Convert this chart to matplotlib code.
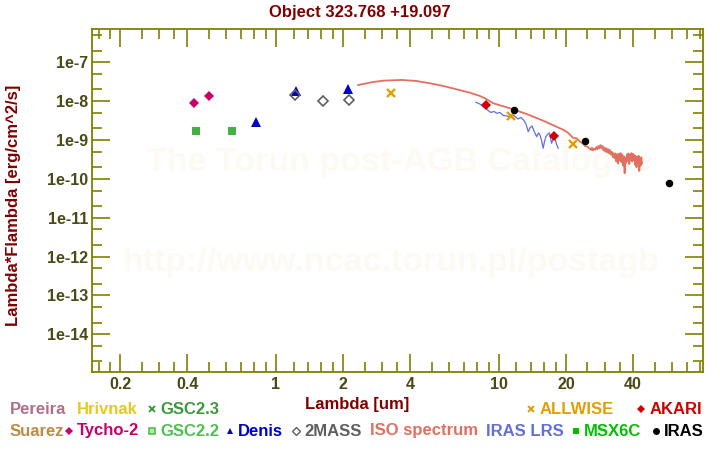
import matplotlib
matplotlib.use('Agg')
import matplotlib.pyplot as plt
from matplotlib.ticker import FixedLocator, FixedFormatter, NullFormatter

plt.rcParams['font.family'] = ['Liberation Sans', 'DejaVu Sans']
plt.rcParams['font.weight'] = 'bold'

# ---------------- data ----------------
title = "Object 323.768 +19.097"

tycho_wave = [0.43, 0.50]
tycho_flux = [8.8e-9, 1.36e-8]

gsc22_wave = [0.44, 0.635]
gsc22_flux = [1.67e-9, 1.67e-9]

denis_wave = [0.81, 1.227, 2.10]
denis_flux = [2.9e-9, 1.86e-8, 2.06e-8]

tmass_wave = [1.22, 1.63, 2.13]
tmass_flux = [1.42e-8, 9.9e-9, 1.05e-8]

allwise_wave = [3.29, 11.37, 21.6]
allwise_flux = [1.59e-8, 4.07e-9, 7.76e-10]

akari_wave = [8.78, 17.6]
akari_flux = [7.82e-9, 1.25e-9]

iras_wave = [11.73, 24.4, 58.2]
iras_flux = [5.93e-9, 9.27e-10, 7.69e-11]

iso_wave = [2.34, 2.73, 3.03, 3.66, 4.27, 4.91, 5.63, 6.46, 7.41, 8.22, 8.66,
            9.44, 11.22, 13.33, 15.83, 18.81, 19.6, 20.4, 21.5, 22.35, 23.2,
            23.8, 24.4,
            25.0, 25.3, 25.6, 25.9, 26.2, 26.5, 26.8, 27.1, 27.4, 27.7, 28.0,
            28.3, 28.6, 28.9, 29.2, 29.5, 29.8, 30.1, 30.4, 30.7, 31.0, 31.3,
            31.6, 31.9, 32.2, 32.5, 32.8, 33.1, 33.4, 33.7, 34.0, 34.3, 34.6,
            34.9, 35.2, 35.5, 35.8, 36.1, 36.4, 36.7, 37.0, 37.3, 37.6, 37.9,
            38.2, 38.5, 38.8, 39.1, 39.4, 39.7, 40.0, 40.3, 40.6, 40.9, 41.2,
            41.5, 41.8, 42.1, 42.4, 42.7, 43.0, 43.3, 43.6, 43.9]
iso_flux = [2.60e-8, 3.11e-8, 3.36e-8, 3.51e-8, 3.30e-8, 2.88e-8, 2.46e-8,
            2.02e-8, 1.65e-8, 1.36e-8, 1.19e-8, 8.82e-9, 6.55e-9, 4.67e-9,
            3.14e-9, 2.00e-9, 1.80e-9, 1.55e-9, 1.15e-9, 1.10e-9, 9.0e-10,
            8.2e-10, 7.0e-10,
            6.8e-10, 6.2e-10, 6.0e-10, 5.5e-10, 6.3e-10, 5.4e-10, 6.0e-10,
            5.6e-10, 6.6e-10, 5.8e-10, 7.0e-10, 6.1e-10, 7.4e-10, 6.2e-10,
            7.0e-10, 5.4e-10, 6.4e-10, 5.0e-10, 6.1e-10, 4.8e-10, 5.8e-10,
            4.5e-10, 5.5e-10, 4.2e-10, 4.9e-10, 3.6e-10, 4.6e-10, 3.4e-10,
            4.5e-10, 2.8e-10, 4.3e-10, 2.5e-10, 4.4e-10, 3.0e-10, 4.6e-10,
            2.7e-10, 4.2e-10, 2.2e-10, 3.8e-10, 1.4e-10, 3.5e-10, 2.6e-10,
            4.3e-10, 2.9e-10, 4.5e-10, 2.4e-10, 4.0e-10, 3.1e-10, 4.6e-10,
            2.8e-10, 4.4e-10, 3.0e-10, 4.1e-10, 2.3e-10, 3.8e-10, 2.0e-10,
            3.6e-10, 2.6e-10, 3.9e-10, 1.6e-10, 3.4e-10, 2.2e-10, 3.6e-10,
            2.5e-10]

lrs_wave = [7.89, 8.22, 8.51, 8.75, 8.96, 9.21, 9.51, 9.81, 10.12, 10.47,
            10.88, 11.22, 11.69, 12.19, 12.57, 12.97, 13.24, 13.56, 13.80,
            14.09, 14.39, 14.79, 15.07, 15.30, 15.54, 15.82, 16.02, 16.27,
            16.62, 16.87, 17.26, 17.58, 17.86, 18.14, 18.48]
lrs_flux = [9.35e-9, 8.45e-9, 7.20e-9, 6.67e-9, 5.75e-9, 5.11e-9, 5.42e-9,
            4.87e-9, 5.11e-9, 4.28e-9, 4.15e-9, 3.91e-9, 4.28e-9, 3.48e-9,
            3.80e-9, 3.18e-9, 2.58e-9, 1.64e-9, 2.04e-9, 2.30e-9, 1.71e-9,
            1.22e-9, 1.52e-9, 1.35e-9, 1.00e-9, 6.12e-10, 8.89e-10, 1.22e-9,
            1.43e-9, 1.52e-9, 8.24e-10, 1.13e-9, 1.11e-9, 7.90e-10, 6.12e-10]

x_major = [0.2, 0.4, 1, 2, 4, 10, 20, 40]
x_labels = ['0.2', '0.4', '1', '2', '4', '10', '20', '40']
x_minor = [0.16, 0.18, 0.25, 0.3, 0.35, 0.5, 0.6, 0.7, 0.8, 0.9, 1.2, 1.4,
           1.6, 1.8, 2.5, 3, 3.5, 5, 6, 7, 8, 9, 12, 14, 16, 18, 25, 30, 35,
           50, 60, 70, 80]
y_major = [1e-7, 1e-8, 1e-9, 1e-10, 1e-11, 1e-12, 1e-13, 1e-14]
y_labels = ['1e-7', '1e-8', '1e-9', '1e-10', '1e-11', '1e-12', '1e-13', '1e-14']
y_minor = [m * 10.0 ** e for e in range(-15, -6) for m in (2, 5)]

# ---------------- styles ----------------
OLIVE = '#808000'
TICKLAB = '#4a4a16'
DARKRED = '#800000'
FS = 11.5
FT = 12

fig = plt.figure(figsize=(7.2, 4.5), dpi=100)
ax = fig.add_axes([92.3 / 720, (450 - 371.7) / 450,
                   (702.8 - 92.3) / 720, (371.7 - 29.3) / 450])
ax.set_xscale('log')
ax.set_yscale('log')
ax.set_xlim(0.15, 82.3)
ax.set_ylim(1.09e-15, 7.06e-7)

for s in ax.spines.values():
    s.set_color(OLIVE)
    s.set_linewidth(1.3)

ax.xaxis.set_major_locator(FixedLocator(x_major))
ax.xaxis.set_major_formatter(FixedFormatter(x_labels))
ax.xaxis.set_minor_locator(FixedLocator(x_minor))
ax.xaxis.set_minor_formatter(NullFormatter())
ax.yaxis.set_major_locator(FixedLocator(y_major))
ax.yaxis.set_major_formatter(FixedFormatter(y_labels))
ax.yaxis.set_minor_locator(FixedLocator(y_minor))
ax.yaxis.set_minor_formatter(NullFormatter())

ax.tick_params(which='both', direction='in', top=True, right=True,
               color=OLIVE, width=1.2, labelcolor=TICKLAB, labelsize=FS)
ax.tick_params(which='major', length=13)
ax.tick_params(which='minor', length=7.2)
ax.tick_params(axis='x', pad=4)
ax.tick_params(axis='y', pad=3)
for lab in ax.get_xticklabels() + ax.get_yticklabels():
    lab.set_fontweight('bold')

# watermark
wm = '#fdfaf3'
ax.text(0.502, 0.612, 'The Torun post-AGB Catalogue', transform=ax.transAxes,
        ha='center', va='center', fontsize=24.5, color=wm, zorder=0)
ax.text(0.489, 0.32, 'http://www.ncac.torun.pl/postagb', transform=ax.transAxes,
        ha='center', va='center', fontsize=24.5, color=wm, zorder=0)

# data
ax.plot(iso_wave, iso_flux, color='#e07060', lw=1.3, zorder=3)
ax.plot(lrs_wave, lrs_flux, color='#6070d8', lw=0.9, zorder=3)
ax.plot(tycho_wave, tycho_flux, 'D', color='#c8006e', ms=5.2, mew=0, zorder=4)
ax.plot(gsc22_wave, gsc22_flux, 's', color='#44b044', ms=5.2, mew=0, zorder=4)
ax.plot(denis_wave, denis_flux, '^', color='#0000c8', ms=6.5, mew=0, zorder=4)
ax.plot(tmass_wave, tmass_flux, 'D', mfc='none', mec='#606060', ms=4.6,
        mew=1.2, zorder=5)
ax.plot(allwise_wave, allwise_flux, 'x', color='#e0a000', ms=5.2, mew=1.7,
        zorder=5)
ax.plot(akari_wave, akari_flux, 'D', color='#d00000', ms=5.2, mew=0, zorder=5)
ax.plot(iras_wave, iras_flux, 'o', color='black', ms=5.4, mew=0, zorder=6)

# titles
fig.text(360 / 720, 1 - 12 / 450, title, ha='center', va='center',
         fontsize=FT, color=DARKRED, fontweight='bold')
fig.text(357 / 720, 1 - 404 / 450, 'Lambda [um]', ha='center', va='center',
         fontsize=FT, color=DARKRED, fontweight='bold')
fig.text(14 / 720, 1 - 205 / 450, 'Lambda*Flambda [erg/cm^2/s]', ha='center',
         va='center', rotation=90, fontsize=FT, color=DARKRED,
         fontweight='bold')

# legend (figure overlay in pixel units)
lax = fig.add_axes([0, 0, 1, 1], facecolor='none')
lax.set_xlim(0, 720)
lax.set_ylim(450, 0)
lax.axis('off')

legend_items = [
    # (marker x, text x, y, label, color, marker, marker kwargs)
    (None, 10, 409, 'Pereira', '#b0708a', None, {}),
    (None, 77, 409, 'Hrivnak', '#e8c820', None, {}),
    (152, 160, 409, 'GSC2.3', '#3c9a3c', 'x', dict(ms=4.5, mew=1.4)),
    (531, 540, 409, 'ALLWISE', '#e0a000', 'x', dict(ms=5, mew=1.4)),
    (641, 650, 409, 'AKARI', '#d00000', 'D', dict(ms=4.2, mew=0)),
    (None, 10, 431, 'Suarez', '#c08a40', None, {}),
    (69, 77, 431, 'Tycho-2', '#c8006e', 'D', dict(ms=4.2, mew=0)),
    (152, 160, 431, 'GSC2.2', '#50c050', 's', dict(ms=4.2, mew=1.2, mfc='#b0e8b0')),
    (230, 238, 431, 'Denis', '#0000c8', '^', dict(ms=5, mew=0)),
    (296, 304, 431, '2MASS', '#606060', 'D', dict(ms=4.0, mew=1.0, mfc='none')),
    (None, 370, 431, 'ISO spectrum', '#e07060', None, {}),
    (None, 486, 431, 'IRAS LRS', '#6070d8', None, {}),
    (576, 584, 431, 'MSX6C', '#00c000', 's', dict(ms=5, mew=0)),
    (656, 664, 431, 'IRAS', 'black', 'o', dict(ms=5, mew=0)),
]
for mx, tx, ty, lab, col, mk, kw in legend_items:
    if mk is not None:
        kw = dict(kw)
        kw.setdefault('mec', col)
        kw.setdefault('mfc', col)
        lax.plot([mx], [ty], linestyle='none', marker=mk, **kw)
    lax.text(tx, ty, lab, ha='left', va='center', fontsize=FT, color=col,
             fontweight='bold')

fig.savefig('out.png', dpi=100)
